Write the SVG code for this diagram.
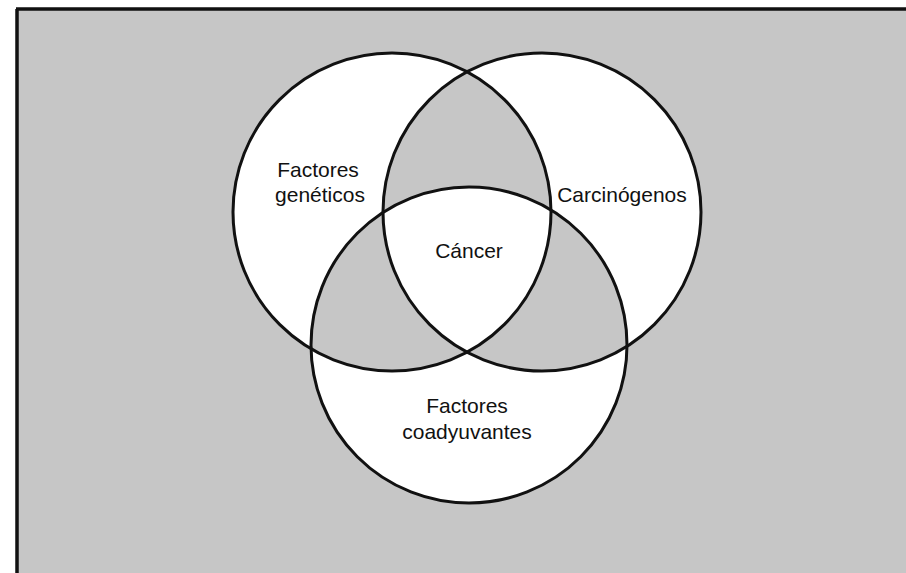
<svg xmlns="http://www.w3.org/2000/svg" width="906" height="573" viewBox="0 0 906 573">
  <style>
    .ring { fill: none; stroke: #111; stroke-width: 3; }
    .lbl { font-family: "Liberation Sans", Arial, sans-serif; font-size: 21px; fill: #111; text-anchor: middle; }
  </style>
  <rect x="0" y="0" width="906" height="573" fill="#ffffff"/>
  <rect x="16" y="9" width="890" height="564" fill="#c6c6c6"/>
  <path d="M16,9 H906 M17,9 V573" fill="none" stroke="#111" stroke-width="3.5"/>
  <path id="regions" fill="#ffffff" fill-rule="evenodd"
        d="M233,212 a159,159 0 1,0 318,0 a159,159 0 1,0 -318,0 Z
           M383,212 a159,159 0 1,0 318,0 a159,159 0 1,0 -318,0 Z
           M311,345 a158,158 0 1,0 316,0 a158,158 0 1,0 -316,0 Z"/>
  <g id="genetic">
    <circle class="ring" cx="392" cy="212" r="159"/>
    <text class="lbl" x="318" y="177">Factores</text>
    <text class="lbl" x="320" y="202">genéticos</text>
  </g>
  <g id="carcinogens">
    <circle class="ring" cx="542" cy="212" r="159"/>
    <text class="lbl" x="622" y="202">Carcinógenos</text>
  </g>
  <g id="cofactors">
    <circle class="ring" cx="469" cy="345" r="158"/>
    <text class="lbl" x="467" y="413">Factores</text>
    <text class="lbl" x="467" y="439">coadyuvantes</text>
  </g>
  <g id="cancer">
    <text class="lbl" x="469" y="258">Cáncer</text>
  </g>
</svg>
